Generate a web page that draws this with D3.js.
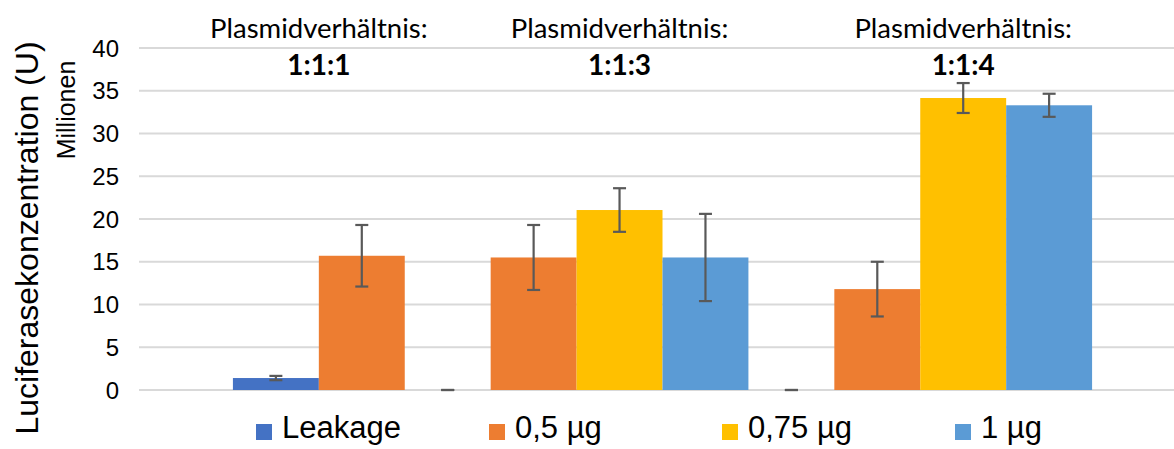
<!DOCTYPE html>
<meta charset="utf-8">
<style>
body { margin: 0; background: #fff; }
text { font-family: "Liberation Sans", Arial, sans-serif; fill: #000; }
.grid line { stroke: #d9d9d9; stroke-width: 2px; }
.err line { stroke: #595959; stroke-width: 2.2px; }
.title { font-family: Lato, "Open Sans", sans-serif; }
</style>
<svg></svg>
<script src="https://d3js.org/d3.v7.min.js"></script>
<script>

var width = 1174, height = 449;

// data
var groups = ["1:1:1", "1:1:3", "1:1:4"];
var series = ["Leakage", "0,5 µg", "0,75 µg", "1 µg"];
var colors = ["#4472c4", "#ed7d31", "#ffc000", "#5b9bd5"];
var leakage    = [1.4, 0, 0];
var leakageErr = [0.25, 0, 0];
var half       = [15.7, 15.5, 11.8];
var halfErr    = [3.6, 3.8, 3.2];
var threeQ     = [null, 21.05, 34.15];
var threeQErr  = [null, 2.55, 1.75];
var one        = [null, 15.5, 33.3];
var oneErr     = [null, 5.1, 1.35];
var yTicks = [0, 5, 10, 15, 20, 25, 30, 35, 40];

var values = [leakage, half, threeQ, one];
var errs = [leakageErr, halfErr, threeQErr, oneErr];

// flatten to bars, skipping missing ones
var bars = [];
groups.forEach(function(g, gi) {
  series.forEach(function(s, si) {
    if (values[si][gi] == null) return;
    bars.push({ group: g, series: s, si: si, value: values[si][gi], err: errs[si][gi], key: g + "|" + s });
  });
});

var svg = d3.select("svg").attr("width", width).attr("height", height);

var x = d3.scaleBand()
    .domain(bars.map(function(d) { return d.key; }))
    .range([147, 1178])
    .paddingInner(0)
    .paddingOuter(1);

var y = d3.scaleLinear().domain([0, 40]).range([390, 48]);

// gridlines
svg.append("g").attr("class", "grid")
  .selectAll("line").data(yTicks).enter().append("line")
    .attr("x1", 139).attr("x2", width)
    .attr("y1", function(d) { return y(d); })
    .attr("y2", function(d) { return y(d); });

// y tick labels
svg.append("g").selectAll("text").data(yTicks).enter().append("text")
    .attr("x", 119)
    .attr("y", function(d) { return y(d); })
    .attr("dy", "0.36em")
    .attr("text-anchor", "end")
    .style("font-size", "24px")
    .text(function(d) { return d; });

// bars
svg.append("g").selectAll("rect").data(bars).enter().append("rect")
    .attr("x", function(d) { return x(d.key); })
    .attr("width", x.bandwidth())
    .attr("y", function(d) { return y(d.value); })
    .attr("height", function(d) { return y(0) - y(d.value); })
    .attr("fill", function(d) { return colors[d.si]; });

// error bars
var eb = svg.append("g").attr("class", "err").selectAll("g").data(bars).enter().append("g")
    .attr("transform", function(d) { return "translate(" + (x(d.key) + x.bandwidth() / 2) + ",0)"; });
eb.append("line")
    .attr("y1", function(d) { return y(d.value - d.err); })
    .attr("y2", function(d) { return y(d.value + d.err); });
eb.append("line").attr("x1", -6.5).attr("x2", 6.5)
    .attr("y1", function(d) { return y(d.value + d.err); })
    .attr("y2", function(d) { return y(d.value + d.err); });
eb.append("line").attr("x1", -6.5).attr("x2", 6.5)
    .attr("y1", function(d) { return y(d.value - d.err); })
    .attr("y2", function(d) { return y(d.value - d.err); });

// group titles, centred over the non-zero bars
groups.forEach(function(g) {
  var b = bars.filter(function(d) { return d.group === g && d.value > 0; });
  var cx = d3.mean(b, function(d) { return x(d.key) + x.bandwidth() / 2; });
  svg.append("text").attr("class", "title")
      .attr("x", cx).attr("y", 38)
      .attr("text-anchor", "middle")
      .style("font-size", "27.5px")
      .text("Plasmidverhältnis:");
  svg.append("text").attr("class", "title")
      .attr("x", cx).attr("y", 75)
      .attr("text-anchor", "middle")
      .style("font-size", "28px")
      .style("font-weight", "bold")
      .text(g);
});

// axis titles
svg.append("text")
    .attr("transform", "translate(38,238) rotate(-90)")
    .attr("text-anchor", "middle")
    .style("font-size", "32px")
    .text("Luciferasekonzentration (U)");
svg.append("text")
    .attr("transform", "translate(75,110) rotate(-90)")
    .attr("text-anchor", "middle")
    .style("font-size", "25px")
    .text("Millionen");

// legend
var lx = d3.scaleBand().domain(series).range([256, 1188]);
var leg = svg.append("g").selectAll("g").data(series).enter().append("g")
    .attr("transform", function(d) { return "translate(" + lx(d) + ",432)"; });
leg.append("rect").attr("x", 0).attr("y", -8).attr("width", 16).attr("height", 16)
    .attr("fill", function(d, i) { return colors[i]; });
leg.append("text").attr("x", 26).attr("y", 6)
    .style("font-size", "31px")
    .text(function(d) { return d; });

</script>
